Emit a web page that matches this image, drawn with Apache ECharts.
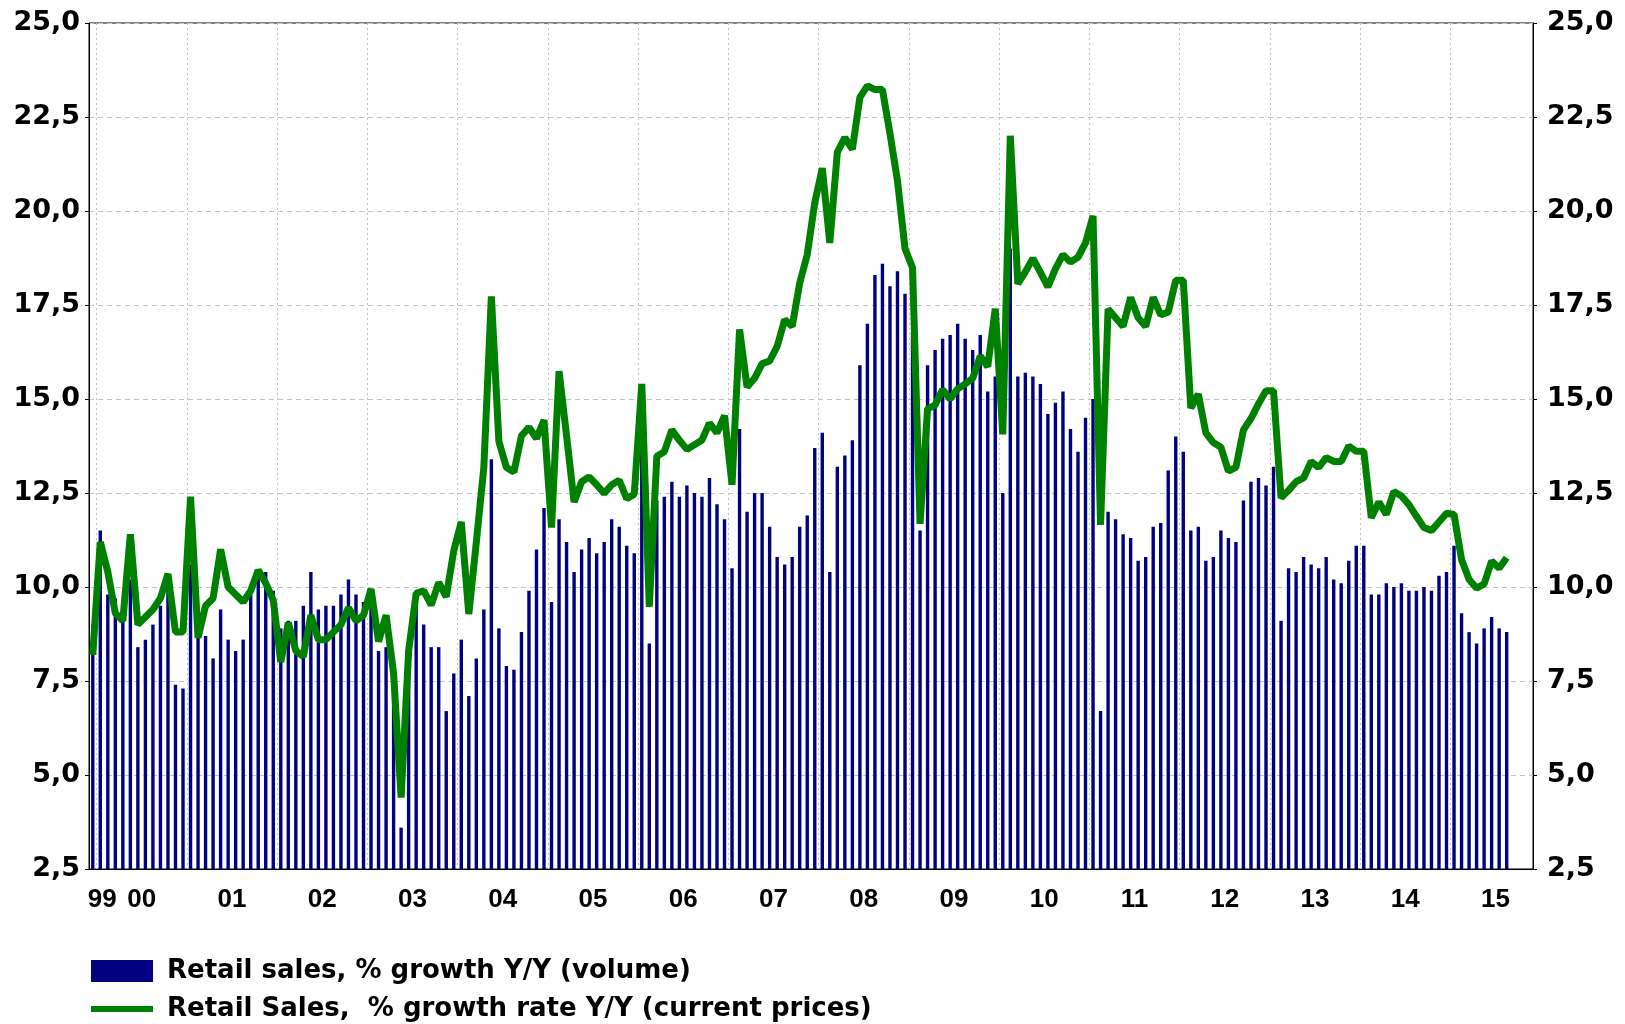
<!DOCTYPE html>
<html>
<head>
<meta charset="utf-8">
<title>Retail sales growth</title>
<script src="https://cdn.jsdelivr.net/npm/echarts@6/dist/echarts.min.js"></script>
<style>
  html, body { margin: 0; padding: 0; background: #fff; }
  #chart { width: 1625px; height: 1024px; }
</style>
</head>
<body>
<div id="chart"></div>
<script>
// monthly, Dec 1999 .. Aug 2015 (axis runs on to Nov 2015)
const firstYear = 1999, firstMonth = 12, monthCount = 192;

const volumeGrowth = [
  9.0,
  11.5, 9.8, 9.7, 9.1, 10.2, 8.4, 8.6, 9.0, 9.5, 10.3, 7.4, 7.3,        // 2000
  10.6, 8.7, 8.7, 8.1, 9.4, 8.6, 8.3, 8.6, 9.8, 10.4, 10.4, 9.9,       // 2001
  8.9, 9.1, 9.1, 9.5, 10.4, 9.4, 9.5, 9.5, 9.8, 10.2, 9.8, 9.6,        // 2002
  9.6, 8.3, 8.4, 7.7, 3.6, 8.5, 9.8, 9.0, 8.4, 8.4, 6.7, 7.7,          // 2003
  8.6, 7.1, 8.1, 9.4, 13.4, 8.9, 7.9, 7.8, 8.8, 9.9, 11.0, 12.1,       // 2004
  9.6, 11.8, 11.2, 10.4, 11.0, 11.3, 10.9, 11.2, 11.8, 11.6, 11.1, 10.9, // 2005
  13.8, 8.5, 12.3, 12.4, 12.8, 12.4, 12.7, 12.5, 12.4, 12.9, 12.2, 11.8, // 2006
  10.5, 14.2, 12.0, 12.5, 12.5, 11.6, 10.8, 10.6, 10.8, 11.6, 11.9, 13.7, // 2007
  14.1, 10.4, 13.2, 13.5, 13.9, 15.9, 17.0, 18.3, 18.6, 18.0, 18.4, 17.8, // 2008
  16.8, 11.5, 15.9, 16.3, 16.6, 16.7, 17.0, 16.6, 16.3, 16.7, 15.2, 15.6, // 2009
  12.5, 19.0, 15.6, 15.7, 15.6, 15.4, 14.6, 14.9, 15.2, 14.2, 13.6, 14.5, // 2010
  15.0, 6.7, 12.0, 11.8, 11.4, 11.3, 10.7, 10.8, 11.6, 11.7, 13.1, 14.0, // 2011
  13.6, 11.5, 11.6, 10.7, 10.8, 11.5, 11.3, 11.2, 12.3, 12.8, 12.9, 12.7, // 2012
  13.2, 9.1, 10.5, 10.4, 10.8, 10.6, 10.5, 10.8, 10.2, 10.1, 10.7, 11.1, // 2013
  11.1, 9.8, 9.8, 10.1, 10.0, 10.1, 9.9, 9.9, 10.0, 9.9, 10.3, 10.4,    // 2014
  11.1, 9.3, 8.8, 8.5, 8.9, 9.2, 8.9, 8.8                               // 2015
];

const currentPriceGrowth = [
  8.2,
  11.2, 10.4, 9.3, 9.1, 11.4, 9.0, 9.2, 9.4, 9.7, 10.35, 8.8, 8.8,          // 2000
  12.4, 8.65, 9.5, 9.7, 11.0, 10.0, 9.8, 9.6, 9.9, 10.45, 10.1, 9.65,      // 2001
  8.0, 9.05, 8.3, 8.15, 9.25, 8.6, 8.6, 8.8, 9.0, 9.45, 9.1, 9.25,         // 2002
  9.95, 8.55, 9.25, 7.7, 4.4, 8.3, 9.83, 9.9, 9.52, 10.12, 9.74, 10.96,    // 2003
  11.73, 9.28, 11.19, 13.18, 17.73, 13.87, 13.18, 13.06, 14.02, 14.25, 13.95, 14.44, // 2004
  11.58, 15.74, 14.02, 12.26, 12.8, 12.93, 12.72, 12.49, 12.72, 12.84, 12.35, 12.47, // 2005
  15.4, 9.47, 13.48, 13.6, 14.18, 13.9, 13.66, 13.78, 13.91, 14.36, 14.1, 14.56,     // 2006
  12.72, 16.85, 15.32, 15.55, 15.94, 16.01, 16.4, 17.11, 16.93, 18.08, 18.84, 20.22, // 2007
  21.14, 19.15, 21.56, 21.95, 21.64, 23.02, 23.33, 23.23, 23.23, 22.06, 20.8, 19.0,  // 2008
  18.49, 11.68, 14.74, 14.84, 15.25, 15.0, 15.27, 15.4, 15.55, 16.14, 15.86, 17.4,   // 2009
  14.06, 22.0, 18.06, 18.38, 18.74, 18.37, 17.98, 18.46, 18.84, 18.64, 18.77, 19.15, // 2010
  19.87, 11.65, 17.39, 17.16, 16.93, 17.7, 17.16, 16.93, 17.7, 17.24, 17.31, 18.16,  // 2011
  18.16, 14.76, 15.13, 14.1, 13.84, 13.72, 13.08, 13.18, 14.18, 14.48, 14.87, 15.22, // 2012
  15.22, 12.37, 12.57, 12.8, 12.9, 13.34, 13.18, 13.44, 13.34, 13.34, 13.75, 13.61,  // 2013
  13.61, 11.84, 12.26, 11.93, 12.54, 12.42, 12.19, 11.88, 11.58, 11.5, 11.73, 11.96, // 2014
  11.93, 10.73, 10.2, 9.97, 10.08, 10.69, 10.5, 10.78                                  // 2015
];

const seriesNames = [
  'Retail sales, % growth Y/Y (volume)',
  'Retail Sales,  % growth rate Y/Y (current prices)'
];

const yMin = 2.5, yMax = 25, yStep = 2.5;

// month categories
const months = [];
for (let i = 0; i < monthCount; i++) {
  const m0 = firstMonth - 1 + i;
  const y = firstYear + Math.floor(m0 / 12);
  const m = (m0 % 12) + 1;
  months.push(y + '-' + (m < 10 ? '0' + m : m));
}

const isJanuary = idx => months[idx].slice(5) === '01';
const isYearLabel = idx => idx === 0 || months[idx].slice(5) === '06';

const yFmt = v => v.toFixed(1).replace('.', ',');
const labelFont = { fontFamily: 'DejaVu Sans', fontWeight: 'bold', fontSize: 27, color: '#000' };

const chart = echarts.init(document.getElementById('chart'));

chart.setOption({
  animation: false,
  backgroundColor: '#fff',
  grid: {
    left: 89, top: 23, width: 1444, height: 846,
    show: true, borderColor: '#000', borderWidth: 1
  },
  legend: {
    left: 91, top: 958, orient: 'vertical',
    itemWidth: 62, itemHeight: 22, itemGap: 12,
    padding: 0,
    textStyle: { fontFamily: 'DejaVu Sans', fontWeight: 'bold', fontSize: 26, color: '#000', padding: [0, 0, 0, 9] },
    data: [
      { name: seriesNames[0], icon: 'rect' },
      // flat green stripe instead of the default line + marker
      { name: seriesNames[1], icon: 'path://M0,0L62,0L62,6L0,6Z', itemStyle: { color: '#008000' } }
    ]
  },
  xAxis: {
    type: 'category',
    data: months,
    boundaryGap: true,
    axisLine: { lineStyle: { color: '#000', width: 1 } },
    axisTick: { interval: isJanuary, length: 5, lineStyle: { color: '#000' } },
    splitLine: {
      show: true, interval: isJanuary,
      lineStyle: { color: '#c4c4c4', type: [2, 3], width: 1 }
    },
    axisLabel: {
      interval: isYearLabel,
      margin: 18,
      formatter: (val, idx) => idx === 0 ? '{f|' + val.slice(2, 4) + '}' : '{y|' + val.slice(2, 4) + '}',
      rich: {
        f: { fontFamily: 'Liberation Sans', fontWeight: 'bold', fontSize: 26, color: '#000', padding: [0, 0, 0, 19] },
        y: { fontFamily: 'Liberation Sans', fontWeight: 'bold', fontSize: 26, color: '#000', padding: [0, 0, 0, 7.5] }
      }
    }
  },
  yAxis: [
    {
      type: 'value', position: 'left',
      min: yMin, max: yMax, interval: yStep,
      axisLine: { show: true, lineStyle: { color: '#000' } },
      axisTick: { show: true, length: 4, lineStyle: { color: '#000' } },
      splitLine: { show: true, lineStyle: { color: '#c4c4c4', type: [5, 4], width: 1 } },
      axisLabel: Object.assign({ margin: 9, formatter: yFmt }, labelFont)
    },
    {
      type: 'value', position: 'right',
      min: yMin, max: yMax, interval: yStep,
      axisLine: { show: true, lineStyle: { color: '#000' } },
      axisTick: { show: true, length: 4, lineStyle: { color: '#000' } },
      splitLine: { show: false },
      axisLabel: Object.assign({ margin: 14, formatter: yFmt }, labelFont)
    }
  ],
  series: [
    {
      name: seriesNames[0],
      type: 'bar',
      data: volumeGrowth,
      barWidth: 3.4,
      itemStyle: { color: '#000080' },
      z: 2
    },
    {
      name: seriesNames[1],
      type: 'line',
      data: currentPriceGrowth,
      symbol: 'none',
      lineStyle: { color: '#008000', width: 7, join: 'bevel' },
      itemStyle: { color: '#008000' },
      z: 3
    }
  ]
});
</script>
</body>
</html>
